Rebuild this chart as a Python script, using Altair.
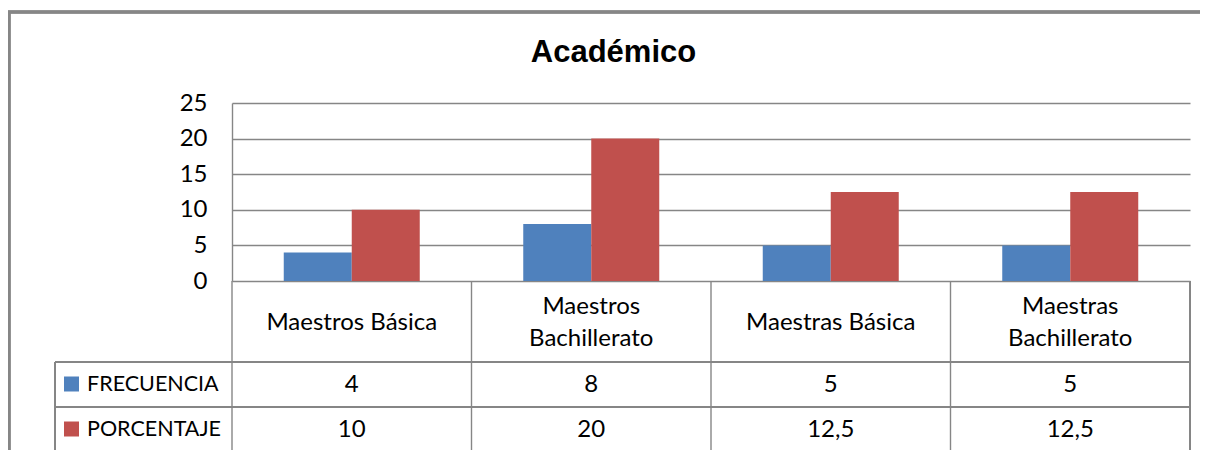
import altair as alt
import pandas as pd

# ---- data ----
categories = ["Maestros Básica", "Maestros Bachillerato", "Maestras Básica", "Maestras Bachillerato"]
category_labels = ["Maestros Básica", "Maestros\nBachillerato", "Maestras Básica", "Maestras\nBachillerato"]
series = ["FRECUENCIA", "PORCENTAJE"]
frecuencia = [4, 8, 5, 5]
porcentaje = [10, 20, 12.5, 12.5]
colors = ["#4F81BD", "#C0504D"]
y_ticks = [0, 5, 10, 15, 20, 25]
title_text = "Académico"


def fmt(v):
    s = ("%g" % v)
    return s.replace(".", ",")


rows = []
for s_name, vals in zip(series, [frecuencia, porcentaje]):
    for c, lab, v in zip(categories, category_labels, vals):
        rows.append({"cat": c, "label": lab, "multi": "\n" in lab, "series": s_name,
                     "value": v, "txt": fmt(v)})
df = pd.DataFrame(rows)

# ---- layout (pixels, plot-area coordinates) ----
W, H = 958, 178
PAD_L, PAD_T, PAD_R, PAD_B = 224, 95, 10, 169
LINE = "#868686"
FONT = "Lato"
FS = 24
FS_LEG = 21.5
LH = 32
BAR_W = 68
label_row_bottom = 259
row_bottoms = [304, 348]
row_centers = [281, 326]
left_col_x = -177

base = alt.Chart(df)
xscale = alt.Scale(domain=categories, paddingInner=0, paddingOuter=0)
xenc = alt.X("cat:N", scale=xscale, axis=None)
color_scale = alt.Scale(domain=series, range=colors)
yaxis = alt.Axis(values=y_ticks, title=None, ticks=False, labelPadding=25,
                 labelFont=FONT, labelFontSize=FS, labelColor="#000000",
                 grid=True, gridColor=LINE, gridWidth=1.4,
                 domain=True, domainColor=LINE, domainWidth=1.4)

layers = []
for i, s_name in enumerate(series):
    sub = base.transform_filter(alt.datum.series == s_name)
    layers.append(sub.mark_bar(width=BAR_W, xOffset=(i - 0.5) * BAR_W).encode(
        x=xenc,
        y=alt.Y("value:Q", scale=alt.Scale(domain=[0, 25], nice=False, zero=True), axis=yaxis),
        color=alt.Color("series:N", scale=color_scale, legend=None),
    ))

# title
layers.append(
    alt.Chart(pd.DataFrame({"t": [title_text]})).mark_text(
        font="Liberation Sans", fontSize=31, fontWeight="bold", color="#000000",
        align="center", baseline="alphabetic"
    ).encode(x=alt.value(381.5), y=alt.value(-41), text="t:N")
)

# outer frame
layers.append(base.mark_rule(color=LINE, strokeWidth=2.5).encode(
    x=alt.value(-223), y=alt.value(-91), y2=alt.value(H + PAD_B)))
layers.append(base.mark_rule(color=LINE, strokeWidth=2.5).encode(
    x=alt.value(-224), x2=alt.value(W + PAD_R), y=alt.value(-91)))

# table: horizontal lines
layers.append(base.mark_rule(color=LINE, strokeWidth=1.4).encode(
    x=alt.value(left_col_x), x2=alt.value(W), y=alt.value(label_row_bottom)))
for yb in row_bottoms:
    layers.append(base.mark_rule(color=LINE, strokeWidth=1.4).encode(
        x=alt.value(left_col_x), x2=alt.value(W), y=alt.value(yb)))

# table: vertical lines
first = base.transform_filter(alt.datum.series == series[0])
layers.append(first.mark_rule(color=LINE, strokeWidth=1.4).encode(
    x=alt.X("cat:N", scale=xscale, axis=None, bandPosition=0),
    y=alt.value(H), y2=alt.value(row_bottoms[-1])))
layers.append(base.mark_rule(color=LINE, strokeWidth=1.4).encode(
    x=alt.value(W), y=alt.value(H), y2=alt.value(row_bottoms[-1])))
layers.append(base.mark_rule(color=LINE, strokeWidth=1.4).encode(
    x=alt.value(left_col_x), y=alt.value(label_row_bottom), y2=alt.value(row_bottoms[-1])))

# category labels (single-line and two-line)
label_mid = (H + label_row_bottom) / 2 + 1
layers.append(first.transform_filter("!datum.multi").mark_text(
    font=FONT, fontSize=FS, color="#000000", align="center", baseline="middle").encode(
    x=xenc, y=alt.value(label_mid), text="label:N"))
layers.append(first.transform_filter("datum.multi").mark_text(
    font=FONT, fontSize=FS, color="#000000", lineBreak="\n", lineHeight=LH,
    align="center", baseline="middle").encode(
    x=xenc, y=alt.value(label_mid - LH / 2), text="label:N"))

# table values + legend column
for i, s_name in enumerate(series):
    sub = base.transform_filter(alt.datum.series == s_name)
    layers.append(sub.mark_text(font=FONT, fontSize=FS, color="#000000",
                                align="center", baseline="middle").encode(
        x=xenc, y=alt.value(row_centers[i] + 1), text="txt:N"))
    one = sub.transform_filter(alt.datum.cat == categories[0])
    layers.append(one.mark_square(size=225, opacity=1).encode(
        x=alt.value(-160.5), y=alt.value(row_centers[i]),
        color=alt.Color("series:N", scale=color_scale, legend=None)))
    layers.append(one.mark_text(font=FONT, fontSize=FS_LEG, color="#000000",
                                align="left", baseline="middle").encode(
        x=alt.value(-145), y=alt.value(row_centers[i] + 1), text="series:N"))

chart = alt.layer(*layers).properties(
    width=W, height=H,
    autosize=alt.AutoSizeParams(type="none"),
    padding={"left": PAD_L, "top": PAD_T, "right": PAD_R, "bottom": PAD_B},
    background="#ffffff",
).configure_view(stroke=None)

chart.save("out.html", embed_options={"renderer": "svg", "actions": False})
